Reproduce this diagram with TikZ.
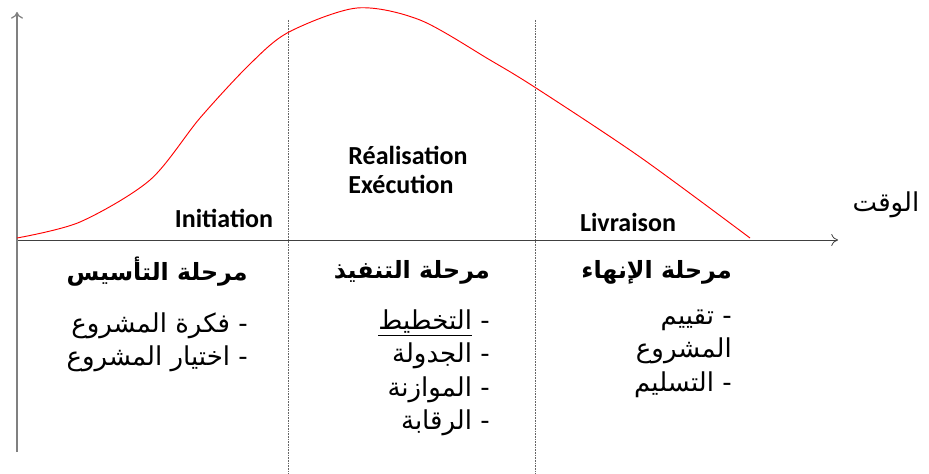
\documentclass[tikz,border=0pt]{standalone}
\usepackage{fontspec}
\setmainfont{Carlito}
\newfontfamily\arabicfont[Script=Arabic]{DejaVu Sans}
\TeXXeTstate=1
\usepackage{tikz}
\usetikzlibrary{arrows.meta,positioning}
\newcommand{\rtl}[1]{\beginR #1\endR}

\begin{document}
\begin{tikzpicture}[
  x=0.75pt,y=-0.75pt,
  axis/.style={-{To[length=5pt,width=9pt]},draw=black!75,line width=0.6pt},
  divider/.style={draw=black!60,dashed,dash pattern=on 1.2pt off 0.8pt,line width=0.6pt},
  phase/.style={font=\bfseries\fontsize{19.5}{22}\selectfont,inner sep=0pt,align=left},
  stage/.style={font=\arabicfont\bfseries\fontsize{17.8}{20}\selectfont,inner sep=0pt,anchor=east},
  tasks/.style={font=\arabicfont\fontsize{19.5}{25}\selectfont,inner sep=0pt,align=right,anchor=north east}
]
\useasboundingbox (0,0) rectangle (929,474);
% axes
\coordinate (O) at (17,240);
\coordinate (xend) at (838,240);
\coordinate (ytop) at (17,12);
\coordinate (ybot) at (17,452);
\draw[axis] (O) -- (xend);
\draw[axis,draw=black!50,line width=0.9pt] (ybot) -- (ytop);
% phase borders
\coordinate (d1top) at (288,20);
\coordinate (d1bot) at (288,474);
\coordinate (d2top) at (535,20);
\coordinate (d2bot) at (535,474);
\draw[divider] (d1top) -- (d1bot);
\draw[divider] (d2top) -- (d2bot);
% effort curve
\draw[red,line width=0.7pt] plot[smooth,tension=0.5] coordinates {
  (17,238) (80,222) (150,180) (200,118) (250,64) (289,32) (357,8)
  (420,20) (490,60) (536,88) (640,157) (750,238)};
% phase names
\node[phase] (init) at (224,218) {Initiation};
\node[phase] (real) at (408,170) {Réalisation\\Exécution};
\node[phase] (livr) at (628,222) {Livraison};
\node[font=\arabicfont\fontsize{19.5}{22}\selectfont,inner sep=0pt] (time) at (886,205) {\rtl{الوقت}};
% stages
\node[stage] (s1) at (248,272) {\rtl{مرحلة التأسيس}};
\node[tasks] (t1) at ([yshift=-19]s1.south east) {\rtl{- فكرة المشروع}\\\rtl{- اختيار المشروع}};
\node[stage] (s2) at (490,272) {\rtl{مرحلة التنفيذ}};
\node[tasks] (t2) at ([yshift=-19]s2.south east) {\rtl{- \underline{التخطيط}}\\\rtl{- الجدولة}\\\rtl{- الموازنة}\\\rtl{- الرقابة}};
\node[stage] (s3) at (732,272) {\rtl{مرحلة الإنهاء}};
\node[tasks] (t3) at ([yshift=-19]s3.south east) {\rtl{- تقييم}\\\rtl{المشروع}\\\rtl{- التسليم}};
\end{tikzpicture}
\end{document}
